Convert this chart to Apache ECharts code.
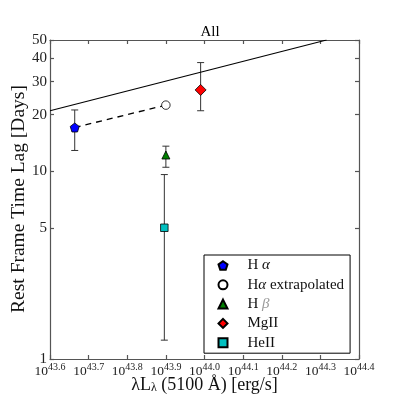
<!DOCTYPE html>
<html><head><meta charset="utf-8">
<script src="https://cdn.jsdelivr.net/npm/echarts@6/dist/echarts.min.js"></script>
<style>html,body{margin:0;padding:0;background:#fff}#c{width:399px;height:399px}</style>
</head><body><div id="c"></div>
<script>
// ---- data ----
const seriesNames = ['Hα', 'Hα extrapolated', 'Hβ', 'MgII', 'HeII'];
const logL   = [43.664, 43.900, 43.900, 43.990, 43.896];
const lag    = [17.1, 22.5, 12.2, 27.1, 5.0];
const lagLow = [12.9, null, 10.5, 21.0, 1.26];
const lagHigh= [21.2, null, 13.6, 37.9, 9.6];
const fitX = [43.6, 44.316];
const fitY = [21.0, 50];
const yTicks = [1, 5, 10, 20, 30, 40, 50];
const xMin = 43.6, xMax = 44.4, xStep = 0.1;

const FONT = 'Liberation Serif';
const colors = ['#0000ff', '#ffffff', '#008000', '#ff0000', '#00bfbf'];
const symbols = [
  'path://M0,-10 L9.51,-3.09 L5.88,8.09 L-5.88,8.09 L-9.51,-3.09 Z',
  'circle', 'triangle', 'diamond', 'rect'
];
const sizes = [9, 8.5, 8, 11, 7.5];

const chart = echarts.init(document.getElementById('c'), null, {renderer: 'canvas'});

const errData = [];
for (let i = 0; i < logL.length; i++) {
  if (lagLow[i] != null) errData.push([logL[i], lagLow[i], lagHigh[i]]);
}

const series = [
  {
    type: 'custom', name: 'err', z: 1,
    xAxisIndex: 0, yAxisIndex: 0,
    encode: {x: 0, y: [1, 2]},
    data: errData,
    renderItem: function (params, api) {
      const x = api.value(0), lo = api.value(1), hi = api.value(2);
      const p1 = api.coord([x, hi]), p2 = api.coord([x, lo]);
      const w = 3.5, st = {stroke: '#333', lineWidth: 1};
      return {type: 'group', children: [
        {type: 'line', shape: {x1: p1[0], y1: p1[1], x2: p2[0], y2: p2[1]}, style: st},
        {type: 'line', shape: {x1: p1[0]-w, y1: p1[1], x2: p1[0]+w, y2: p1[1]}, style: st},
        {type: 'line', shape: {x1: p2[0]-w, y1: p2[1], x2: p2[0]+w, y2: p2[1]}, style: st}
      ]};
    }
  },
  {
    type: 'line', name: 'fit', z: 2, symbol: 'none', silent: true,
    data: fitX.map((x, i) => [x, fitY[i]]),
    lineStyle: {color: '#000', width: 1.2}
  },
  {
    type: 'line', name: 'extrap', z: 2, symbol: 'none', silent: true,
    data: [[logL[0], lag[0]], [logL[1], lag[1]]],
    lineStyle: {color: '#000', width: 1.3, type: [6, 5]}
  }
];
for (let i = 0; i < seriesNames.length; i++) {
  series.push({
    type: 'scatter', name: seriesNames[i], z: 5,
    symbol: symbols[i], symbolSize: sizes[i],
    data: [[logL[i], lag[i]]],
    itemStyle: {color: colors[i], borderColor: '#000', borderWidth: 0.8, opacity: 1}
  });
}

const axisLineStyle = {color: '#555', width: 1.2};
const supLabel = {
  formatter: v => '{b|10}{s|' + v.toFixed(1) + '}',
  rich: {
    b: {fontFamily: FONT, fontSize: 13.5, color: '#222', verticalAlign: 'bottom'},
    s: {fontFamily: FONT, fontSize: 10, color: '#222', verticalAlign: 'top', padding: [0, 0, 6, 0]}
  },
  margin: 3
};
const legRich = {
  r: {fontFamily: FONT, fontSize: 15, color: '#111'},
  i: {fontFamily: FONT, fontSize: 15, color: '#111', fontStyle: 'italic'},
  g: {fontFamily: FONT, fontSize: 15, color: '#999', fontStyle: 'italic'}
};

chart.setOption({
  animation: false,
  backgroundColor: '#fff',
  title: {
    text: 'All', left: 205, top: 20, textAlign: 'center',
    textStyle: {fontFamily: FONT, fontSize: 15, fontWeight: 'normal', color: '#000'}
  },
  graphic: [{
    type: 'text', x: 19, y: 199, rotation: Math.PI / 2,
    style: {text: 'Rest Frame Time Lag [Days]', fontFamily: FONT, fontSize: 19.5, fill: '#111',
      align: 'center', verticalAlign: 'middle'}
  }],
  grid: {left: 50, top: 40, right: 40, bottom: 40, containLabel: false, outerBoundsMode: 'none'},
  legend: {
    data: seriesNames,
    orient: 'vertical', left: 204, top: 255,
    backgroundColor: '#fff', borderColor: '#000', borderWidth: 1,
    padding: [3, 6, 3, 13.5],
    itemWidth: 9, itemHeight: 9, itemGap: 4.3,
    textStyle: {fontFamily: FONT, fontSize: 15, color: '#111', padding: [0, 0, 0, 15], rich: legRich},
    formatter: function (name) {
      if (name === 'Hα') return '{r|H }{i|α}';
      if (name === 'Hα extrapolated') return '{r|H}{i|α}{r| extrapolated}';
      if (name === 'Hβ') return '{r|H }{g|β}';
      return '{r|' + name + '}';
    }
  },
  xAxis: [
    {
      type: 'value', min: xMin, max: xMax, interval: xStep,
      position: 'bottom',
      name: '{a|λL}{u|λ}{a| (5100 Å) [erg/s]}',
      nameLocation: 'middle', nameGap: 17, nameMoveOverlap: false,
      nameTextStyle: {
        rich: {
          a: {fontFamily: FONT, fontSize: 18, color: '#111'},
          u: {fontFamily: FONT, fontSize: 12, color: '#111', verticalAlign: 'bottom', padding: [5, 0, 0, 0]}
        }
      },
      axisLine: {show: true, lineStyle: axisLineStyle},
      axisTick: {show: true, inside: true, length: 4, lineStyle: axisLineStyle},
      axisLabel: supLabel,
      splitLine: {show: false}
    },
    {
      type: 'value', min: xMin, max: xMax, interval: xStep,
      position: 'top',
      axisLine: {show: true, lineStyle: axisLineStyle},
      axisTick: {show: true, inside: true, length: 4, lineStyle: axisLineStyle},
      axisLabel: {show: false},
      splitLine: {show: false}
    }
  ],
  yAxis: [
    {
      type: 'log', logBase: 10, min: 1, max: 50,
      position: 'left',
      axisLine: {show: true, lineStyle: axisLineStyle},
      axisTick: {show: true, inside: true, length: 4, lineStyle: axisLineStyle, customValues: yTicks},
      axisLabel: {fontFamily: FONT, fontSize: 15, color: '#222', margin: 3, customValues: yTicks},
      splitLine: {show: false}
    },
    {
      type: 'log', logBase: 10, min: 1, max: 50,
      position: 'right',
      axisLine: {show: true, lineStyle: axisLineStyle},
      axisTick: {show: true, inside: true, length: 4, lineStyle: axisLineStyle, customValues: yTicks},
      axisLabel: {show: false, customValues: yTicks},
      splitLine: {show: false}
    }
  ],
  series: series
});
</script></body></html>
